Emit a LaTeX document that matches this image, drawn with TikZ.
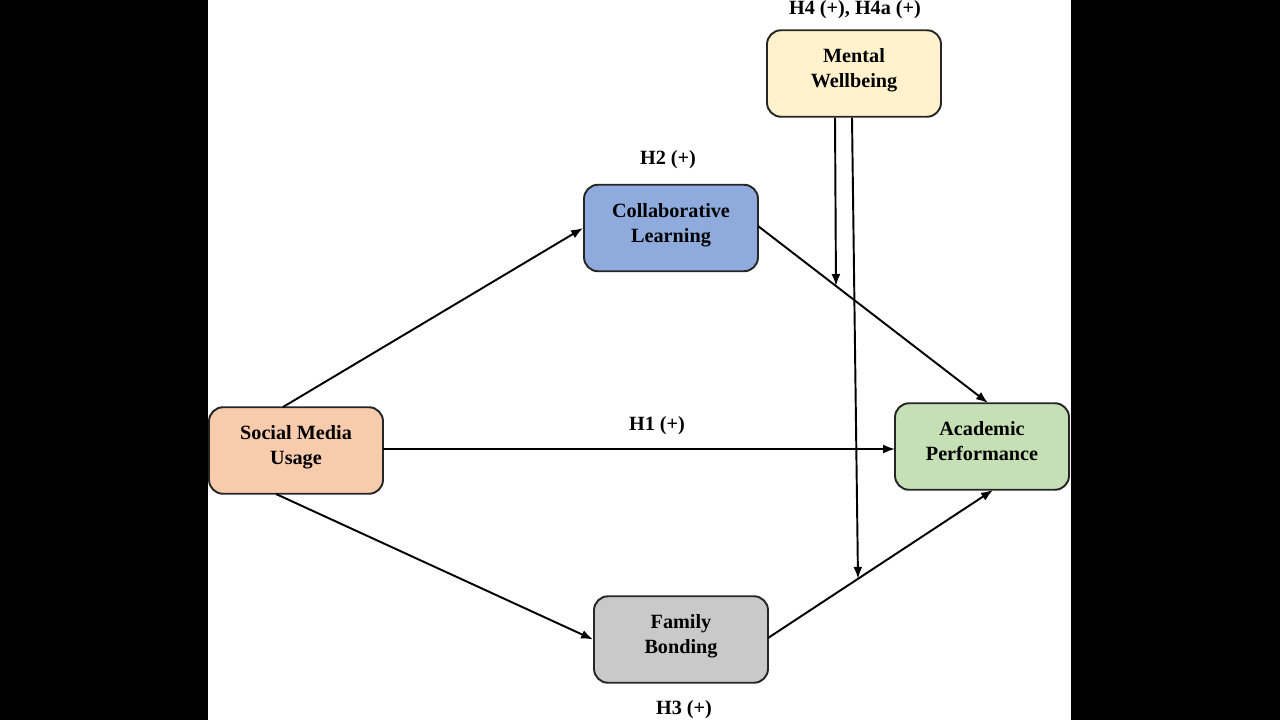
\documentclass[tikz,border=0pt]{standalone}
\usepackage{fontspec}
\setmainfont{Liberation Serif}
\usetikzlibrary{arrows.meta,calc}
\definecolor{cmw}{RGB}{255,242,204}
\definecolor{ccl}{RGB}{143,170,220}
\definecolor{csm}{RGB}{248,203,173}
\definecolor{cap}{RGB}{197,224,180}
\definecolor{cfb}{RGB}{201,201,201}
\begin{document}
\begin{tikzpicture}[x=0.02cm,y=-0.02cm,
  box/.style={draw=black!85,line width=1.1pt,rounded corners=0.28cm,minimum width=3.48cm,minimum height=1.73cm,align=center,font=\fontsize{11.5}{14.4}\selectfont\bfseries,inner sep=0pt,text depth=6pt},
  lbl/.style={font=\fontsize{11.5}{14}\selectfont\bfseries,inner sep=0pt},
  arr/.style={line width=1.1pt,-{Latex[length=2.4mm,width=1.8mm]}}]
\useasboundingbox (0,0) rectangle (1280,720);
\fill[black] (0,0) rectangle (1280,720);
\fill[white] (208,0) rectangle (1071,720);
\node[box,fill=cmw] (mw) at (854,73.5) {Mental\\Wellbeing};
\node[box,fill=ccl] (cl) at (671,228) {Collaborative\\Learning};
\node[box,fill=csm] (sm) at (296,450.5) {Social Media\\Usage};
\node[box,fill=cap] (ap) at (982,446.5) {Academic\\Performance};
\node[box,fill=cfb] (fb) at (681,639.5) {Family\\Bonding};
\node[lbl] (h4) at (855,10) {H4 (+), H4a (+)};
\node[lbl] (h2) at (668,160) {H2 (+)};
\node[lbl] (h1) at (657,426) {H1 (+)};
\node[lbl] (h3) at (684,710) {H3 (+)};
\coordinate (smt) at (283,407);
\coordinate (smb) at (276,494);
\coordinate (smr) at (383,449);
\coordinate (apl) at (895,449);
\coordinate (clr) at (758,226);
\coordinate (apt) at (988,403);
\coordinate (fbr) at (768,638);
\coordinate (apb) at (993,490);
\draw[arr] (smt) -- (cl.west);
\draw[arr] (smr) -- (apl);
\draw[arr] (smb) -- (fb.west);
\draw[arr] (clr) -- (apt);
\draw[arr] (fbr) -- (apb);
\coordinate (m1s) at ($(mw.south)+(-19,0)$);
\coordinate (m2s) at ($(mw.south)+(-2,0)$);
\coordinate (m1e) at ($(clr)!0.339!(apt)$);
\coordinate (m2e) at ($(fbr)!0.4!(apb)$);
\draw[arr] (m1s) -- (m1e);
\draw[arr] (m2s) -- (m2e);
\end{tikzpicture}
\end{document}
